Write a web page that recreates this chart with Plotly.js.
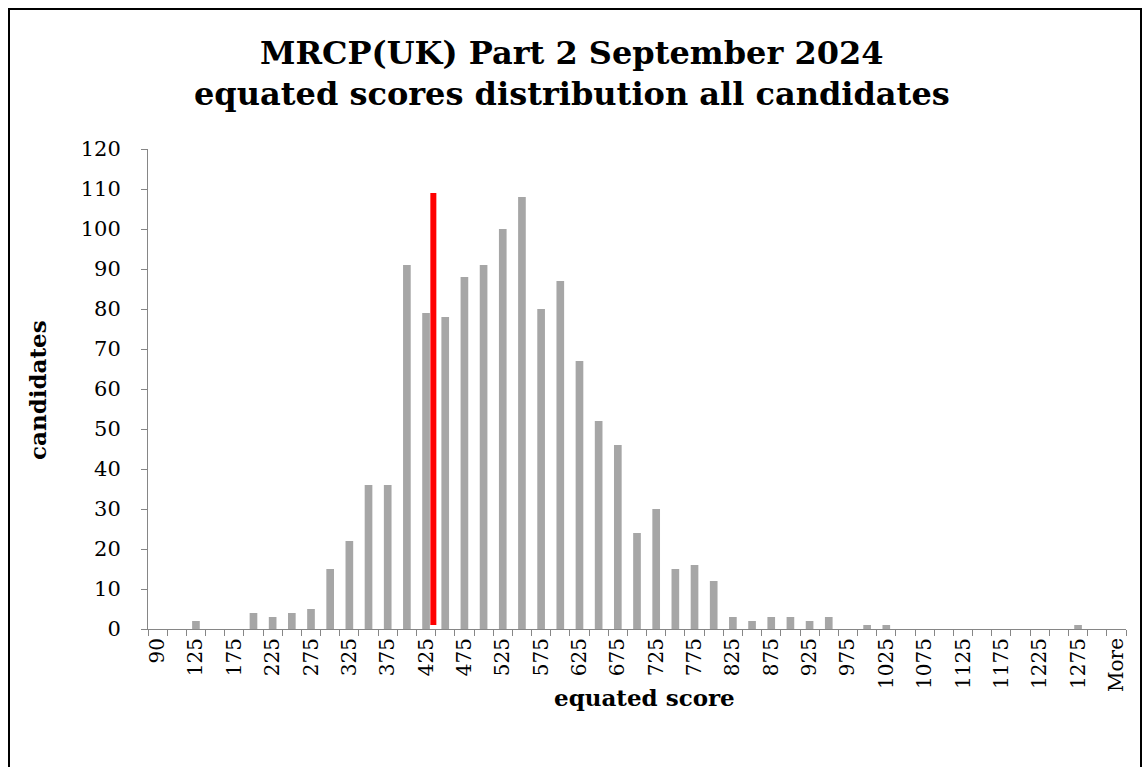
<!DOCTYPE html>
<html>
<head>
<meta charset="utf-8">
<script src="https://cdn.plot.ly/plotly-3.0.1.min.js"></script>
<style>
  html, body { margin: 0; padding: 0; background: #fff; }
  #chart { width: 1143px; height: 767px; }
</style>
</head>
<body>
<div id="chart"></div>
<script>
// ---- data ----
const categories = ["90","100","125","150","175","200","225","250","275","300",
  "325","350","375","400","425","450","475","500","525","550",
  "575","600","625","650","675","700","725","750","775","800",
  "825","850","875","900","925","950","975","1000","1025","1050",
  "1075","1100","1125","1150","1175","1200","1225","1250","1275","1300","More"];
const candidates = [0,0,2,0,0,4,3,4,5,15,
  22,36,36,91,79,78,88,91,100,108,
  80,87,67,52,46,24,30,15,16,12,
  3,2,3,3,2,3,0,1,1,0,
  0,0,0,0,0,0,0,0,1,0,0];
// every other category is labelled on the axis
const tickLabels = categories.map((c, i) => (i % 2 === 0 ? c : ""));
const titleLines = ["MRCP(UK) Part 2 September 2024", "equated scores distribution all candidates"];
// pass mark line (score and vertical extent in candidates)
const passMark = 434.5;
const passLineRange = [1, 109];

// position of the pass mark on the category axis (interpolated between bins)
function scoreToIndex(s) {
  for (let i = 0; i < categories.length - 2; i++) {
    const a = parseFloat(categories[i]), b = parseFloat(categories[i + 1]);
    if (s >= a && s <= b) return i + (s - a) / (b - a);
  }
  return categories.length - 1;
}
const passIdx = scoreToIndex(passMark);

const FONT = "DejaVu Serif";

const trace = {
  type: "bar",
  x: categories,
  y: candidates,
  marker: { color: "#a6a6a6", line: { width: 0 } },
  hoverinfo: "x+y"
};

const L = 148, R = 17, T = 149, B = 138;
const W = 1143, H = 767;
const pw = W - L - R, ph = H - T - B;
const px = v => (v - L) / pw;
const py = v => (H - B - v) / ph;

const layout = {
  width: W, height: H,
  margin: { l: L, r: R, t: T, b: B, pad: 0 },
  paper_bgcolor: "#ffffff",
  plot_bgcolor: "#ffffff",
  showlegend: false,
  bargap: 0.6,
  font: { family: FONT, color: "#000000", size: 20 },
  xaxis: {
    type: "category",
    tickmode: "array",
    tickvals: categories,
    ticktext: tickLabels,
    tickson: "boundaries",
    ticks: "outside", ticklen: 6, tickcolor: "#868686", tickwidth: 1,
    tickangle: -90,
    tickfont: { family: FONT, size: 20, color: "#000000" },
    showline: true, linecolor: "#868686", linewidth: 1,
    showgrid: false, zeroline: false
  },
  yaxis: {
    range: [0, 120],
    dtick: 10,
    ticks: "outside", ticklen: 6, tickcolor: "#868686", tickwidth: 1,
    tickfont: { family: FONT, size: 21, color: "#000000" },
    ticklabelstandoff: 16,
    showline: true, linecolor: "#868686", linewidth: 1,
    showgrid: false, zeroline: false
  },
  annotations: [
    {
      text: "<b>" + titleLines[0] + "</b>", xref: "paper", yref: "paper",
      x: px(571.5), y: py(53), xanchor: "center", yanchor: "middle",
      showarrow: false, font: { family: FONT, size: 32, color: "#000000" }
    },
    {
      text: "<b>" + titleLines[1] + "</b>", xref: "paper", yref: "paper",
      x: px(571.5), y: py(94), xanchor: "center", yanchor: "middle",
      showarrow: false, font: { family: FONT, size: 32, color: "#000000" }
    },
    {
      text: "<b>equated score</b>", xref: "paper", yref: "paper",
      x: px(644), y: py(697), xanchor: "center", yanchor: "middle",
      showarrow: false, font: { family: FONT, size: 23, color: "#000000" }
    },
    {
      text: "<b>candidates</b>", xref: "paper", yref: "paper",
      x: px(37), y: py(390), xanchor: "center", yanchor: "middle", textangle: -90,
      showarrow: false, font: { family: FONT, size: 23, color: "#000000" }
    }
  ],
  shapes: [
    {
      type: "line", xref: "x", yref: "y",
      x0: passIdx, x1: passIdx, y0: passLineRange[0], y1: passLineRange[1],
      line: { color: "#ff0000", width: 6 }
    },
    {
      type: "rect", xref: "paper", yref: "paper",
      x0: px(9), x1: px(1141), y0: py(9), y1: py(800),
      line: { color: "#000000", width: 2 }, fillcolor: "rgba(0,0,0,0)"
    }
  ]
};

Plotly.newPlot("chart", [trace], layout, { displayModeBar: false, staticPlot: true });
</script>
</body>
</html>
